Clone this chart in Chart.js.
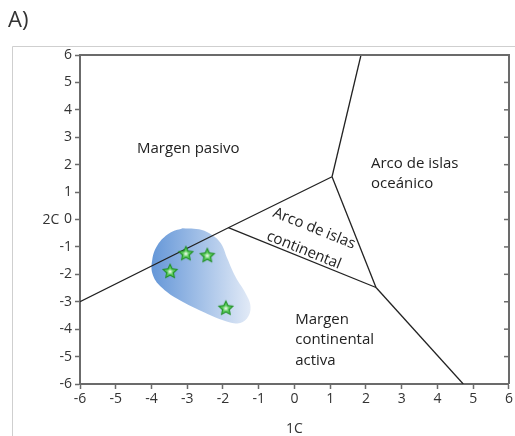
<!DOCTYPE html>
<html>
<head>
<meta charset="utf-8">
<script src="https://cdn.jsdelivr.net/npm/chart.js@4.4.1/dist/chart.umd.min.js"></script>
<style>
  html, body { margin: 0; padding: 0; background: #fff; }
  #wrap { width: 515px; height: 436px; }
</style>
</head>
<body>
<div id="wrap"><canvas id="plot" width="515" height="436"></canvas></div>
<script>
// Axis range and ticks
const axisMin = -6;
const axisMax = 6;
const tickStep = 1;

// Field boundaries (1C, 2C)
const lineLower = [{x: -6, y: -3.0}, {x: -1.85, y: -0.3}, {x: 1.05, y: 1.56}];
const lineUpper = [{x: 1.05, y: 1.56}, {x: 1.86, y: 6}];
const lineMiddle = [{x: 1.05, y: 1.56}, {x: 2.28, y: -2.48}];
const lineInner = [{x: -1.85, y: -0.3}, {x: 2.28, y: -2.48}];
const lineBottom = [{x: 2.28, y: -2.48}, {x: 4.72, y: -6}];

// Blue sample field outline
const fieldOutline = [
  {x: -3.13, y: -0.32}, {x: -2.67, y: -0.36}, {x: -2.30, y: -0.57}, {x: -2.06, y: -0.87},
  {x: -1.88, y: -1.42}, {x: -1.65, y: -2.09}, {x: -1.37, y: -2.69}, {x: -1.23, y: -3.18},
  {x: -1.33, y: -3.61}, {x: -1.60, y: -3.79}, {x: -2.02, y: -3.67}, {x: -2.58, y: -3.36},
  {x: -3.22, y: -2.94}, {x: -3.69, y: -2.51}, {x: -3.96, y: -2.03}, {x: -3.98, y: -1.48},
  {x: -3.83, y: -0.93}, {x: -3.50, y: -0.50}, {x: -3.13, y: -0.32}
];

// Samples (stars)
const samples = [
  {x: -3.04, y: -1.23},
  {x: -2.44, y: -1.30},
  {x: -3.48, y: -1.88},
  {x: -1.92, y: -3.22}
];

// Field labels: [text, x, y, align, rotation in degrees]
const fieldLabels = [
  ['Margen pasivo', -2.97, 2.57, 'center', 0],
  ['Arco de islas', 2.14, 2.03, 'left', 0],
  ['oceánico', 2.14, 1.30, 'left', 0],
  ['Margen', 0.02, -3.67, 'left', 0],
  ['continental', 0.02, -4.40, 'left', 0],
  ['activa', 0.02, -5.16, 'left', 0],
  ['Arco de islas', 0.55, -0.33, 'center', 22],
  ['continental', 0.26, -1.12, 'center', 22]
];

const FONT = '"Open Sans", "Noto Sans", sans-serif';
const AXIS_COLOR = '#6b6b6b';

// Star marker drawn once on an offscreen canvas
function makeStar() {
  const c = document.createElement('canvas');
  c.width = 18; c.height = 18;
  const g = c.getContext('2d');
  function star(r1, r2) {
    g.beginPath();
    for (let i = 0; i < 10; i++) {
      const r = i % 2 ? r2 : r1;
      const a = -Math.PI / 2 + i * Math.PI / 5;
      g.lineTo(9 + r * Math.cos(a), 9.6 + r * Math.sin(a));
    }
    g.closePath();
  }
  star(8.6, 4.2);
  g.fillStyle = '#1f8f24';
  g.fill();
  star(6.2, 3.0);
  g.fillStyle = '#57c957';
  g.fill();
  const rg = g.createRadialGradient(9, 9.6, 0, 9, 9.6, 3.5);
  rg.addColorStop(0, '#ffffff');
  rg.addColorStop(1, 'rgba(200,240,200,0)');
  star(4.2, 2.2);
  g.fillStyle = rg;
  g.fill();
  return c;
}
const starImg = makeStar();

function boundary(data) {
  return {
    data: data,
    showLine: true,
    borderColor: '#222',
    borderWidth: 1.3,
    pointRadius: 0,
    fill: false,
    order: 2
  };
}

const decor = {
  id: 'decor',
  beforeDraw(chart) {
    const c = chart.ctx;
    c.save();
    c.strokeStyle = '#cfcfcf';
    c.lineWidth = 1;
    c.beginPath();
    c.moveTo(12.5, 436);
    c.lineTo(12.5, 46.5);
    c.lineTo(515, 46.5);
    c.stroke();
    c.restore();
  },
  afterDraw(chart) {
    const c = chart.ctx;
    const a = chart.chartArea;
    const xs = chart.scales.x;
    const ys = chart.scales.y;
    c.save();
    // top and right border
    c.strokeStyle = AXIS_COLOR;
    c.lineWidth = 2;
    c.beginPath();
    c.moveTo(a.left, a.top);
    c.lineTo(a.right, a.top);
    c.lineTo(a.right, a.bottom);
    c.stroke();
    // inward ticks on the right
    c.lineWidth = 1.5;
    ys.ticks.forEach(t => {
      const py = ys.getPixelForValue(t.value);
      c.beginPath();
      c.moveTo(a.right - 5, py);
      c.lineTo(a.right, py);
      c.stroke();
    });
    // field labels
    c.fillStyle = '#222';
    c.font = '15px ' + FONT;
    c.textBaseline = 'middle';
    fieldLabels.forEach(([txt, x, y, align, rot]) => {
      c.save();
      c.translate(xs.getPixelForValue(x), ys.getPixelForValue(y));
      c.rotate(rot * Math.PI / 180);
      c.textAlign = align;
      c.fillText(txt, 0, 0);
      c.restore();
    });
    // axis titles and panel letter
    c.fillStyle = '#333';
    c.font = '14px ' + FONT;
    c.textAlign = 'center';
    c.fillText('2C', 51, ys.getPixelForValue(0) + 1);
    c.fillText('1C', xs.getPixelForValue(0), 429);
    c.textAlign = 'left';
    c.font = '22px ' + FONT;
    c.fillText('A)', 8, 21);
    c.restore();
  }
};

new Chart(document.getElementById('plot').getContext('2d'), {
  type: 'scatter',
  data: {
    datasets: [
      {
        data: fieldOutline,
        showLine: true,
        tension: 0.4,
        borderWidth: 0,
        borderColor: 'rgba(0,0,0,0)',
        pointRadius: 0,
        fill: 'shape',
        order: 3,
        backgroundColor(ctx) {
          const chart = ctx.chart;
          if (!chart.chartArea) return '#9dbbe6';
          const xs = chart.scales.x;
          const gr = chart.ctx.createLinearGradient(xs.getPixelForValue(-4), 0, xs.getPixelForValue(-1.2), 0);
          gr.addColorStop(0, '#6597d8');
          gr.addColorStop(1, '#e3ebf7');
          return gr;
        }
      },
      boundary(lineLower),
      boundary(lineUpper),
      boundary(lineMiddle),
      boundary(lineInner),
      boundary(lineBottom),
      {
        data: samples,
        pointStyle: starImg,
        order: 1
      }
    ]
  },
  options: {
    responsive: false,
    animation: false,
    events: [],
    layout: { autoPadding: false, padding: { top: 55, right: 3, left: 0, bottom: 0 } },
    plugins: { legend: { display: false }, tooltip: { enabled: false } },
    scales: {
      x: {
        type: 'linear',
        min: axisMin,
        max: axisMax,
        afterFit(s) { s.height = 52; },
        ticks: { stepSize: tickStep, color: '#333', font: { family: FONT, size: 14 }, padding: 2, maxRotation: 0 },
        grid: { drawOnChartArea: false, tickLength: 5, color: AXIS_COLOR, tickWidth: 1.5 },
        border: { color: AXIS_COLOR, width: 2 }
      },
      y: {
        type: 'linear',
        min: axisMin,
        max: axisMax,
        afterFit(s) { s.width = 80; },
        ticks: { stepSize: tickStep, color: '#333', font: { family: FONT, size: 14 }, padding: 3 },
        grid: { drawOnChartArea: false, tickLength: 5, color: AXIS_COLOR, tickWidth: 1.5 },
        border: { color: AXIS_COLOR, width: 2 }
      }
    }
  },
  plugins: [decor]
});
</script>
</body>
</html>
